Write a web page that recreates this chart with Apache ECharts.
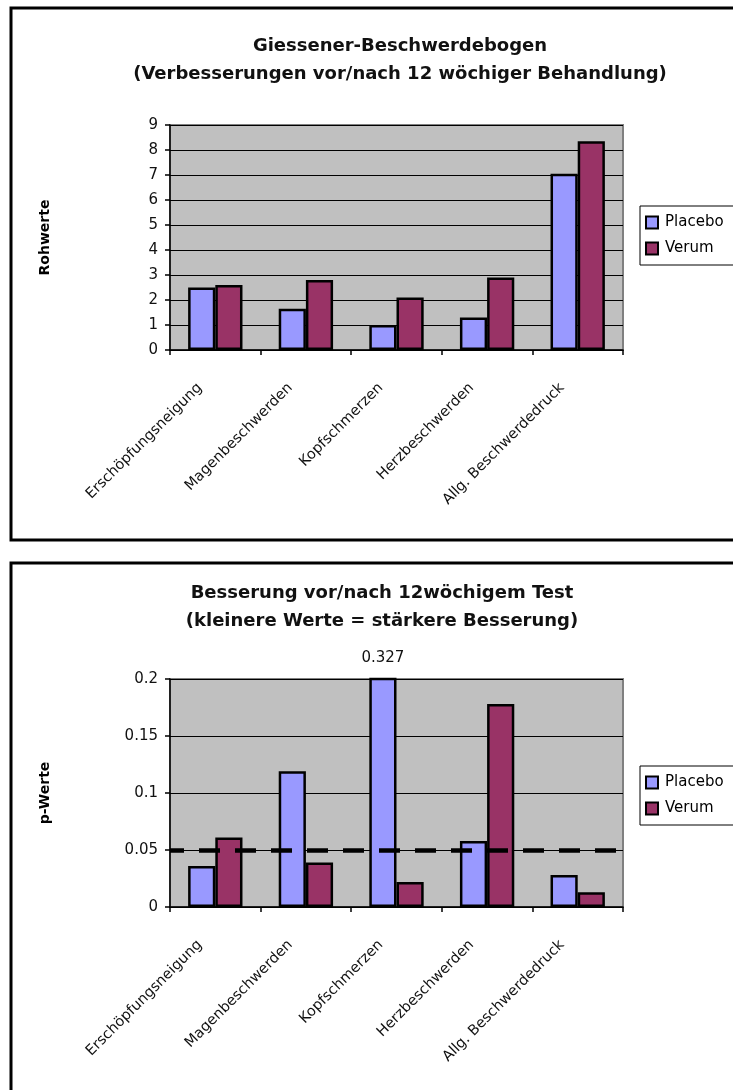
<!DOCTYPE html>
<html>
<head>
<meta charset="utf-8">
<script src="https://cdn.jsdelivr.net/npm/echarts@6/dist/echarts.min.js"></script>
<style>
html,body{margin:0;padding:0;overflow:hidden;background:#fff;}
#c{width:770px;height:1110px;}
</style>
</head>
<body>
<div id="c"></div>
<script>
var categories = ['Erschöpfungsneigung','Magenbeschwerden','Kopfschmerzen','Herzbeschwerden','Allg. Beschwerdedruck'];
var seriesNames = ['Placebo','Verum'];
var placeboRaw = [2.5, 1.65, 1.0, 1.3, 7.05];
var verumRaw = [2.6, 2.8, 2.1, 2.9, 8.35];
var placeboP = [0.036, 0.119, 0.327, 0.058, 0.028];
var verumP = [0.061, 0.039, 0.022, 0.178, 0.013];
var significance = 0.05;
var title1 = ['Giessener-Beschwerdebogen', '(Verbesserungen vor/nach 12 wöchiger Behandlung)'];
var title2 = ['Besserung vor/nach 12wöchigem Test', '(kleinere Werte = stärkere Besserung)'];
var yName1 = 'Rohwerte';
var yName2 = 'p-Werte';

var FONT = 'DejaVu Sans';
var colors = ['#9999ff', '#993366'];

function xAx(gi){
  return {
    type:'category', gridIndex:gi, data:categories,
    axisLine:{show:true, lineStyle:{color:'#000', width:1.5}},
    axisTick:{show:true, length:5, lineStyle:{color:'#000', width:1.5}},
    axisLabel:{interval:0, rotate:45, margin:20, padding:[0,22,0,0], color:'#111', fontFamily:FONT, fontSize:14.5}
  };
}
function yAx(gi, max, interval, name, fmt){
  return {
    type:'value', gridIndex:gi, min:0, max:max, interval:interval,
    name:name, nameLocation:'middle', nameRotate:90, nameGap:118,
    nameTextStyle:{color:'#000', fontFamily:FONT, fontWeight:'bold', fontSize:14},
    axisLine:{show:true, lineStyle:{color:'#000', width:1.5}},
    axisTick:{show:true, length:5, lineStyle:{color:'#000', width:1.5}},
    axisLabel:{color:'#111', fontFamily:FONT, fontSize:15, margin:12, formatter:fmt},
    splitLine:{show:true, lineStyle:{color:'#000', width:1}}
  };
}
function barSeries(name, idx, gi, data, extra){
  var s = {
    name:name, type:'bar', xAxisIndex:gi, yAxisIndex:gi, data:data,
    barWidth:'30%', barGap:'0%', barCategoryGap:'40%',
    itemStyle:{color:colors[idx], borderColor:'#000', borderWidth:2.5},
    emphasis:{disabled:true}, animation:false
  };
  if (extra) for (var k in extra) s[k] = extra[k];
  return s;
}

var pData = placeboP.map(function(v){
  if (v > 0.2) return {value:v, label:{show:true, position:'top', distance:12, color:'#111', fontFamily:FONT, fontSize:15, formatter:function(p){return String(p.value);}}};
  return v;
});

function legendAt(top){
  return {data:seriesNames, orient:'vertical', left:640, top:top, padding:[9,40,9,5], itemGap:11,
     itemWidth:12, itemHeight:12, icon:'rect', backgroundColor:'#fff', borderColor:'#000', borderWidth:1,
     itemStyle:{borderColor:'#000', borderWidth:2}, selectedMode:false,
     textStyle:{color:'#000', fontFamily:FONT, fontSize:15, padding:[0,0,0,2]}};
}

var chart = echarts.init(document.getElementById('c'), null, {renderer:'canvas'});
chart.setOption({
  animation:false,
  backgroundColor:'#fff',
  textStyle:{fontFamily:FONT},
  graphic:[
    {type:'rect', shape:{x:11, y:8, width:750, height:532}, style:{fill:'none', stroke:'#000', lineWidth:3}, z:100},
    {type:'rect', shape:{x:11, y:563, width:750, height:560}, style:{fill:'none', stroke:'#000', lineWidth:3}, z:100}
  ],
  title:[
    {text:title1.join('\n'), left:395, top:27, textAlign:'center',
     textStyle:{fontFamily:FONT, fontWeight:'bold', fontSize:18, lineHeight:28, color:'#111'}},
    {text:title2.join('\n'), left:377, top:574, textAlign:'center',
     textStyle:{fontFamily:FONT, fontWeight:'bold', fontSize:18, lineHeight:28, color:'#111'}}
  ],
  legend:[legendAt(206), legendAt(766)],
  grid:[
    {left:170, top:125, width:453, height:225, show:true, backgroundColor:'#c0c0c0', borderColor:'#808080', borderWidth:2},
    {left:170, top:679, width:453, height:228, show:true, backgroundColor:'#c0c0c0', borderColor:'#808080', borderWidth:2}
  ],
  xAxis:[xAx(0), xAx(1)],
  yAxis:[
    yAx(0, 9, 1, yName1, function(v){return String(v);}),
    yAx(1, 0.2, 0.05, yName2, function(v){return String(+v.toFixed(2));})
  ],
  series:[
    barSeries(seriesNames[0], 0, 0, placeboRaw),
    barSeries(seriesNames[1], 1, 0, verumRaw),
    barSeries(seriesNames[0], 0, 1, pData, {
      markLine:{silent:true, symbol:['none','none'], z:10, label:{show:false},
        lineStyle:{color:'#000', width:4.5, type:[21,15], dashOffset:7},
        emphasis:{disabled:true},
        data:[{yAxis:significance}]}
    }),
    barSeries(seriesNames[1], 1, 1, verumP)
  ]
});
</script>
</body>
</html>
